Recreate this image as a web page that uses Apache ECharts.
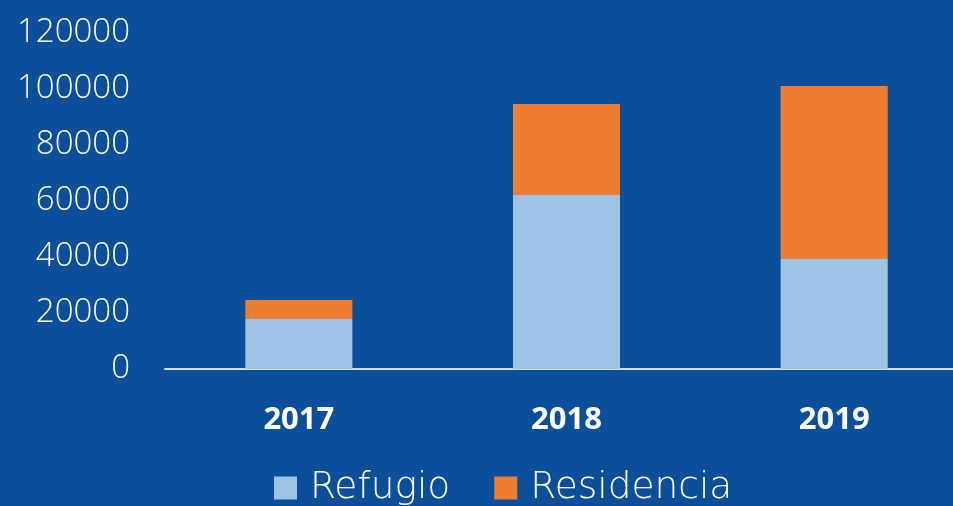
<!DOCTYPE html>
<html>
<head>
<meta charset="utf-8">
<script src="https://cdn.jsdelivr.net/npm/echarts@6/dist/echarts.min.js"></script>
<style>
html,body{margin:0;padding:0;background:#0B4F9B;}
#chart{width:953px;height:506px;}
</style>
</head>
<body>
<div id="chart"></div>
<script>
const categories = ['2017', '2018', '2019'];
const refugio = [17900, 62100, 39300];
const residencia = [6700, 32500, 61800];
const seriesNames = ['Refugio', 'Residencia'];

const chart = echarts.init(document.getElementById('chart'));
chart.setOption({
  backgroundColor: '#0B4F9B',
  animation: false,
  grid: { left: 165, width: 803, top: 33, height: 336, containLabel: false, outerBoundsMode: 'none' },
  legend: {
    data: seriesNames,
    top: 469,
    left: 274,
    padding: 0,
    itemWidth: 23,
    itemHeight: 23,
    itemGap: 44,
    icon: 'rect',
    textStyle: { color: '#FFFFFF', fontSize: 37.5, fontFamily: 'DejaVu Sans', fontWeight: 300, padding: [0, 0, 0, 8] }
  },
  xAxis: {
    type: 'category',
    data: categories,
    axisLine: { lineStyle: { color: '#D9D9D9', width: 2 } },
    axisTick: { show: false },
    axisLabel: { color: '#FFFFFF', fontSize: 31, fontWeight: 'bold', fontFamily: 'Open Sans', margin: 36 }
  },
  yAxis: {
    type: 'value',
    min: 0,
    max: 120000,
    interval: 20000,
    axisLine: { show: false },
    axisTick: { show: false },
    splitLine: { show: false },
    axisLabel: { color: '#FFFFFF', fontSize: 33, fontFamily: 'Open Sans', fontWeight: 300, margin: 35, padding: [4, 0, 0, 0], formatter: v => String(v) }
  },
  series: [
    {
      name: seriesNames[0], type: 'bar', stack: 'total', data: refugio,
      barWidth: '40%',
      itemStyle: { color: '#9DC3E6' }
    },
    {
      name: seriesNames[1], type: 'bar', stack: 'total', data: residencia,
      barWidth: '40%',
      itemStyle: { color: '#ED7D31' }
    }
  ]
});
</script>
</body>
</html>
